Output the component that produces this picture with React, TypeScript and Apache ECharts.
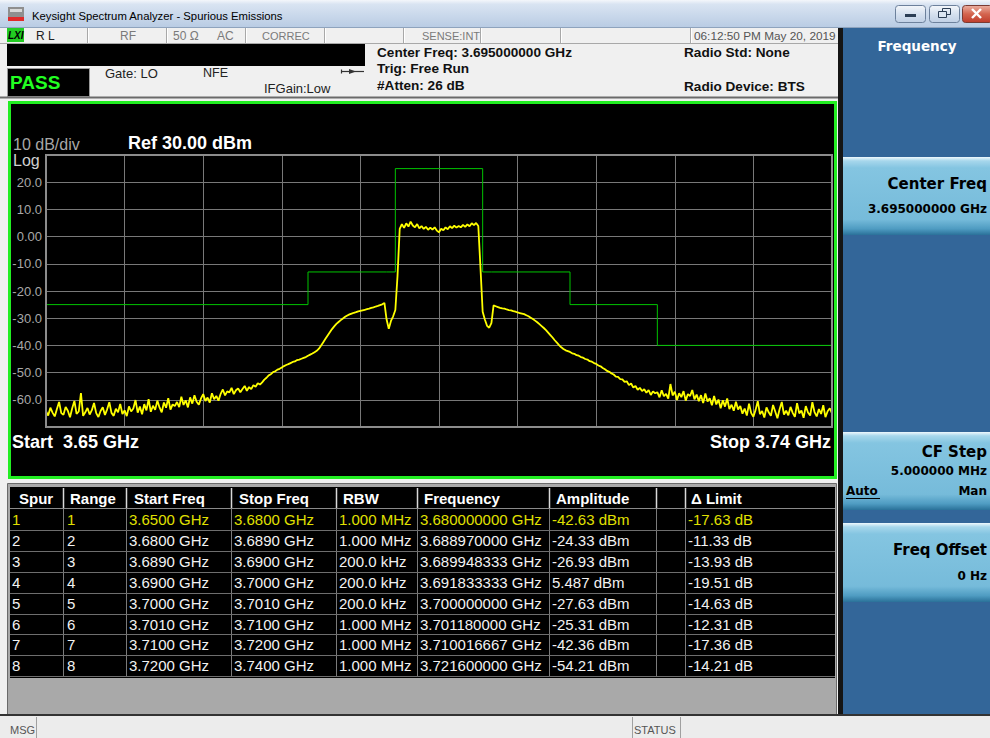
import React, { useEffect, useRef } from "react";
import * as echarts from "echarts";

// ---------------- data ----------------
const START_MHZ = 3650;
const STOP_MHZ = 3740;
const REF_LEVEL_DBM = 30;
const BOTTOM_LEVEL_DBM = -70;
const DB_PER_DIV = 10;
const FREQ_DIV_MHZ = 9;
const TRACE_STEP_MHZ = 0.25;

// trace samples every 0.25 MHz from 3650 MHz
const traceDbm = [
  -64.2, -65.8, -62.9, -64.7, -66.1, -63.4, -60.8, -64.9, -65.5, -62.6, -64.0, -66.4, -63.1, -60.4, -65.2, -64.3, -57.5, -65.9, -64.6, -63.0,
  -65.4, -63.8, -61.2, -64.9, -66.3, -64.1, -62.7, -65.6, -63.5, -60.9, -64.8, -65.9, -63.3, -64.6, -61.5, -65.2, -63.9, -66.0, -62.4, -64.3,
  -63.2, -60.1, -64.7, -62.5, -65.3, -61.6, -63.9, -59.8, -64.4, -62.2, -63.7, -60.3, -62.8, -64.6, -61.0, -62.9, -59.4, -63.6, -61.7, -62.3,
  -60.8, -62.7, -58.9, -61.9, -60.2, -62.8, -59.1, -61.4, -58.3, -60.7, -61.8, -59.5, -57.9, -60.4, -59.2, -61.0, -57.6, -59.8, -58.6, -60.3,
  -57.8, -56.2, -58.4, -56.9, -57.3, -55.6, -57.9, -56.5, -55.8, -57.2, -56.0, -54.9, -56.7, -55.3, -56.1, -54.6, -55.2, -53.9, -54.4, -53.6,
  -52.6, -51.9, -51.0, -50.6, -49.8, -49.5, -48.9, -48.6, -48.1, -47.6, -47.2, -46.9, -46.5, -46.1, -45.9, -45.4, -45.2, -44.9, -44.6, -44.3,
  -43.8, -43.4, -43.0, -42.5, -42.0, -41.2, -40.0, -38.8, -37.6, -36.4, -35.2, -34.0, -33.0, -32.1, -31.4, -30.7, -30.1, -29.5, -29.0, -28.6,
  -28.3, -28.0, -27.8, -27.5, -27.3, -27.1, -26.9, -26.7, -26.5, -26.2, -26.0, -25.7, -25.5, -25.2, -24.9, -24.4, -30.5, -33.9, -31.0, -29.3,
  -27.0, -14.5, 2.8, 4.6, 3.2, 4.9, 3.7, 5.5, 4.1, 3.4, 4.6, 3.0, 3.9, 2.8, 3.6, 2.5, 3.3, 2.6, 3.4, 2.2,
  1.6, 2.9, 2.3, 3.4, 2.7, 3.8, 3.1, 4.0, 3.3, 3.9, 3.4, 4.3, 3.6, 4.5, 3.8, 4.9, 4.2, 5.0, 3.9, -11.5,
  -27.6, -30.5, -32.8, -33.5, -31.8, -25.3, -25.6, -25.9, -26.2, -26.4, -26.5, -26.8, -27.0, -27.1, -27.4, -27.6, -27.9, -28.1, -28.3, -28.5,
  -28.9, -29.3, -29.8, -30.3, -30.9, -31.5, -32.2, -32.9, -33.6, -34.4, -35.3, -36.2, -37.1, -38.1, -39.0, -39.9, -40.7, -41.3, -41.8, -42.1,
  -42.4, -42.9, -43.1, -43.6, -43.8, -44.3, -44.5, -45.0, -45.2, -45.8, -46.0, -46.5, -46.8, -47.4, -47.7, -48.3, -48.8, -49.4, -49.7, -50.3,
  -50.7, -51.5, -51.6, -52.4, -52.5, -53.4, -53.2, -54.6, -54.0, -55.5, -54.9, -56.3, -55.6, -56.8, -56.1, -57.4, -56.4, -58.2, -56.9, -57.6,
  -57.2, -59.1, -56.5, -58.7, -57.8, -59.6, -54.2, -58.4, -57.0, -60.1, -57.6, -59.0, -56.8, -60.3, -57.9, -58.6, -56.4, -59.8, -58.1, -60.5,
  -58.3, -61.2, -57.7, -60.6, -59.4, -62.0, -58.6, -61.7, -59.9, -63.1, -60.2, -62.5, -59.5, -63.4, -61.8, -64.0, -60.7, -63.6, -62.3, -65.1,
  -63.2, -65.8, -61.4, -64.9, -66.2, -63.7, -60.5, -65.3, -64.1, -66.5, -62.8, -64.6, -65.9, -61.9, -64.3, -66.8, -63.5, -60.8, -65.4, -64.0,
  -65.7, -62.6, -64.8, -66.3, -61.2, -65.0, -63.9, -66.6, -62.3, -64.7, -65.8, -60.9, -64.5, -66.1, -63.4, -65.2, -62.0, -66.4, -64.2, -63.1,
  -65.0,
];

const rangeNumbers = [1, 2, 3, 4, 5, 6, 7, 8];
const rangeStartMHz = [3650, 3680, 3689, 3690, 3700, 3701, 3710, 3720];
const rangeStopMHz = [3680, 3689, 3690, 3700, 3701, 3710, 3720, 3740];
const rangeLimitDbm = [-25, -13, -13, 25, -13, -13, -25, -40];
const rangeRbwLabels = ["1.000 MHz", "1.000 MHz", "200.0 kHz", "200.0 kHz", "200.0 kHz", "1.000 MHz", "1.000 MHz", "1.000 MHz"];
const spurNumbers = [1, 2, 3, 4, 5, 6, 7, 8];
const spurFreqGHz = [3.68, 3.68897, 3.689948333, 3.691833333, 3.7, 3.70118, 3.710016667, 3.7216];
const spurAmplitudeDbm = [-42.63, -24.33, -26.93, 5.487, -27.63, -25.31, -42.36, -54.21];
const spurDeltaLimitDb = [-17.63, -11.33, -13.93, -19.51, -14.63, -12.31, -17.36, -14.21];
const tableHeaders = ["Spur", "Range", "Start Freq", "Stop Freq", "RBW", "Frequency", "Amplitude", "", "\u0394 Limit"];

// ---------------- layout ----------------
const FONT = '"Liberation Sans", Arial, sans-serif';
const SKF = '"DejaVu Sans", sans-serif';
const GRID = { left: 46, top: 155, width: 786, height: 272 };
const COL_EDGES = [10, 63, 126, 231, 336, 417, 549, 656, 685, 835];
const HEAD_X = [19, 70, 134, 239, 343, 424, 556, 0, 691];
const CELL_X = [12, 67, 129, 234, 339, 420, 552, 0, 688];

function grad(stops: [number, string][]) {
  return new echarts.graphic.LinearGradient(0, 0, 0, 1, stops.map(([offset, color]) => ({ offset, color })));
}

function buildGraphics() {
  const els: any[] = [];
  const R = (x: number, y: number, w: number, h: number, fill: any, o: any = {}) =>
    els.push({
      type: "rect",
      silent: true,
      z: o.z ?? -8,
      shape: { x, y, width: w, height: h, r: o.r || 0 },
      style: { fill, stroke: o.stroke || null, lineWidth: o.lw || 1 },
    });
  const L = (x1: number, y1: number, x2: number, y2: number, stroke: string, lw = 1, z = -6) =>
    els.push({ type: "line", silent: true, z, shape: { x1, y1, x2, y2 }, style: { stroke, lineWidth: lw } });
  const T = (x: number, y: number, text: string, font: string, fill: string, align = "left") =>
    els.push({
      type: "text",
      silent: true,
      z: 100,
      x,
      y,
      style: { text, font, fill, textAlign: align, textVerticalAlign: "middle", align, verticalAlign: "middle" },
    });

  // title bar
  R(0, 0, 990, 28, grad([[0, "#f4f7fb"], [0.15, "#d9e4f2"], [1, "#b8cbe3"]]), { z: -9 });
  L(0, 27.5, 990, 27.5, "#8ea3bd");
  R(8, 7, 16, 11, "#8f8f8f");
  R(10, 9, 12, 3, "#d8d8d8");
  R(8, 17, 16, 4, "#e02a2a");
  T(32, 16, "Keysight Spectrum Analyzer - Spurious Emissions", `11.3px ${FONT}`, "#000");
  R(895.5, 5.5, 30, 17, grad([[0, "#f4f7fb"], [0.5, "#d6e1ef"], [1, "#c0d0e5"]]), { stroke: "#6d819c", r: 3 });
  R(929.5, 5.5, 30, 17, grad([[0, "#f4f7fb"], [0.5, "#d6e1ef"], [1, "#c0d0e5"]]), { stroke: "#6d819c", r: 3 });
  R(962.5, 5.5, 30, 17, grad([[0, "#eab0a2"], [0.5, "#d4654f"], [1, "#bf3d2c"]]), { stroke: "#7a3b33", r: 3 });
  R(905, 14, 11, 3, "#2c3e55", { z: -5 });
  R(942.5, 8.5, 8, 6, "none", { stroke: "#2c3e55", z: -5 });
  R(938.5, 11.5, 8, 6, "#dce6f2", { stroke: "#2c3e55", z: -4 });
  L(972, 9, 981, 18, "#ffffff", 2.4, -4);
  L(981, 9, 972, 18, "#ffffff", 2.4, -4);

  // status row
  R(0, 28, 838, 70, "#f0f0f0", { z: -9 });
  L(0, 43.5, 838, 43.5, "#a8a8a8");
  [87, 166, 245, 324, 403, 480, 560, 690].forEach((x) => {
    L(x + 0.5, 28, x + 0.5, 43, "#a8a8a8");
    L(x + 1.5, 28, x + 1.5, 43, "#ffffff");
  });
  R(7, 28, 17, 14, "#22cc22");
  T(8, 35.5, "LXI", `italic bold 10px ${FONT}`, "#000");
  T(36, 35.5, "R L", `12px ${FONT}`, "#222");
  T(120, 35.5, "RF", `12px ${FONT}`, "#7a7a7a");
  T(173, 35.5, "50 \u03A9", `12px ${FONT}`, "#7a7a7a");
  T(217, 35.5, "AC", `12px ${FONT}`, "#7a7a7a");
  T(262, 35.5, "CORREC", `11px ${FONT}`, "#7a7a7a");
  T(422, 35.5, "SENSE:INT", `11px ${FONT}`, "#7a7a7a");
  T(694, 35.5, "06:12:50 PM May 20, 2019", `11.8px ${FONT}`, "#555");

  // settings area
  R(7, 44, 358, 22, "#000");
  R(7.5, 68.5, 82, 28, "#000", { stroke: "#9a9a9a" });
  T(10, 82.5, "PASS", `bold 19px ${FONT}`, "#22ff22");
  T(105, 73, "Gate: LO", `13px ${FONT}`, "#222");
  T(203, 73, "NFE", `12.5px ${FONT}`, "#222");
  T(264, 88, "IFGain:Low", `13px ${FONT}`, "#222");
  L(341, 71.5, 364, 71.5, "#333", 1.2);
  els.push({ type: "polygon", silent: true, z: -5, shape: { points: [[349, 69], [356, 71.5], [349, 74]] }, style: { fill: "#333" } });
  L(341.5, 69.5, 341.5, 73.5, "#333", 1.2, -5);
  const centerGHz = ((START_MHZ + STOP_MHZ) / 2 / 1000).toFixed(9);
  T(377, 52, `Center Freq: ${centerGHz} GHz`, `bold 13.6px ${FONT}`, "#111");
  T(377, 68.5, "Trig: Free Run", `bold 13.6px ${FONT}`, "#111");
  T(377, 85, "#Atten: 26 dB", `bold 13.6px ${FONT}`, "#111");
  T(684, 52, "Radio Std: None", `bold 13.6px ${FONT}`, "#111");
  T(684, 86, "Radio Device: BTS", `bold 13.6px ${FONT}`, "#111");
  L(0, 97.5, 838, 97.5, "#6a6a6a", 2);

  // plot panel
  R(9.5, 102.5, 826, 375, "#000", { stroke: "#22ee22", lw: 3 });
  R(GRID.left, GRID.top, GRID.width, GRID.height, "none", { stroke: "#8c8c8c", lw: 2, z: 10 });
  T(13, 144, `${DB_PER_DIV} dB/div`, `16px ${FONT}`, "#a8a8a8");
  T(128, 143, `Ref ${REF_LEVEL_DBM.toFixed(2)} dBm`, `bold 18px ${FONT}`, "#ffffff");
  T(13, 160, "Log", `16px ${FONT}`, "#d0d0d0");
  T(12, 441.5, `Start  ${START_MHZ / 1000} GHz`, `bold 18px ${FONT}`, "#ffffff");
  T(831, 441.5, `Stop ${STOP_MHZ / 1000} GHz`, `bold 18px ${FONT}`, "#ffffff", "right");

  // table
  R(7.5, 483.5, 829, 231, "#a9a9a9", { stroke: "#6a6a6a" });
  R(10, 487, 825, 191, "#000");
  tableHeaders.forEach((h, i) => {
    if (h) T(HEAD_X[i], 498, h, `bold 15px ${FONT}`, "#ffffff");
  });
  COL_EDGES.slice(1, -1).forEach((x) => {
    L(x + 0.5, 488, x + 0.5, 508, "#d8d8d8", 1.5);
    L(x + 0.5, 509, x + 0.5, 677, "#7a7a7a");
  });
  L(10, 508.5, 835, 508.5, "#8a8a8a");
  const ROW_H = 20.9;
  rangeNumbers.forEach((rn, k) => {
    const top = 509 + k * ROW_H;
    const cy = top + 10.5;
    L(10, Math.round(top + ROW_H) + 0.5, 835, Math.round(top + ROW_H) + 0.5, "#6e6e6e");
    const cells = [
      String(spurNumbers[k]),
      String(rn),
      `${(rangeStartMHz[k] / 1000).toFixed(4)} GHz`,
      `${(rangeStopMHz[k] / 1000).toFixed(4)} GHz`,
      rangeRbwLabels[k],
      `${spurFreqGHz[k].toFixed(9)} GHz`,
      `${spurAmplitudeDbm[k].toPrecision(4)} dBm`,
      "",
      `${spurDeltaLimitDb[k].toFixed(2)} dB`,
    ];
    const color = k === 0 ? "#e0e000" : "#f2f2f2";
    cells.forEach((c, i) => {
      if (c) T(CELL_X[i], cy, c, `15px ${FONT}`, color);
    });
  });

  // status bar
  R(0, 716, 990, 22, "#ececec", { z: -9 });
  L(0, 715, 990, 715, "#333", 2);
  [36, 632, 680].forEach((x) => L(x + 0.5, 717, x + 0.5, 738, "#a0a0a0"));
  T(10, 729.5, "MSG", `11px ${FONT}`, "#555");
  T(634, 729.5, "STATUS", `11px ${FONT}`, "#555");

  // soft key panel
  R(838, 28, 152, 686, "#336699", { z: -9 });
  R(838, 28, 5, 686, "#151515", { z: -8 });
  T(917, 46, "Frequency", `bold 13.5px ${SKF}`, "#ffffff", "center");
  const keyGrad = () =>
    grad([[0, "#eef8fd"], [0.05, "#a7d7ec"], [0.14, "#84c5e1"], [0.8, "#76bbda"], [0.92, "#4f9cc2"], [1, "#2a7199"]]);
  [[157, 235], [432, 510], [523, 602]].forEach(([a, b]) => R(843, a, 147, b - a, keyGrad()));
  T(987, 184, "Center Freq", `bold 15px ${SKF}`, "#000", "right");
  T(987, 209, `${centerGHz} GHz`, `bold 12px ${SKF}`, "#000", "right");
  T(987, 452, "CF Step", `bold 15px ${SKF}`, "#000", "right");
  T(987, 471, "5.000000 MHz", `bold 12px ${SKF}`, "#000", "right");
  T(846, 491, "Auto", `bold 12px ${SKF}`, "#000");
  L(846, 498.5, 880, 498.5, "#000", 1.2, -4);
  T(987, 491, "Man", `bold 12px ${SKF}`, "#000", "right");
  T(987, 550, "Freq Offset", `bold 15px ${SKF}`, "#000", "right");
  T(987, 576, "0 Hz", `bold 12px ${SKF}`, "#000", "right");

  return els;
}

export default function App() {
  const ref = useRef<HTMLDivElement>(null);
  useEffect(() => {
    if (!ref.current) return;
    const chart = echarts.init(ref.current, null, { renderer: "svg" });
    const traceData = traceDbm.map((v, i) => [i * TRACE_STEP_MHZ, v]);
    const limitData: number[][] = [];
    rangeStartMHz.forEach((s, i) => {
      limitData.push([s - START_MHZ, rangeLimitDbm[i]]);
      limitData.push([rangeStopMHz[i] - START_MHZ, rangeLimitDbm[i]]);
    });
    chart.setOption({
      animation: false,
      backgroundColor: "#f0f0f0",
      grid: { ...GRID, containLabel: false },
      xAxis: {
        type: "value",
        min: 0,
        max: STOP_MHZ - START_MHZ,
        interval: FREQ_DIV_MHZ,
        axisLine: { show: false },
        axisTick: { show: false },
        axisLabel: { show: false },
        splitLine: { show: true, lineStyle: { color: "#787878", width: 1 } },
      },
      yAxis: {
        type: "value",
        min: BOTTOM_LEVEL_DBM,
        max: REF_LEVEL_DBM,
        interval: DB_PER_DIV,
        axisLine: { show: false },
        axisTick: { show: false },
        axisLabel: {
          color: "#a8a8a8",
          fontSize: 13,
          fontFamily: FONT,
          margin: 4,
          formatter: (v: number) =>
            v === REF_LEVEL_DBM || v === BOTTOM_LEVEL_DBM ? "" : v === 0 ? "0.00" : v.toFixed(1),
        },
        splitLine: { show: true, lineStyle: { color: "#787878", width: 1 } },
      },
      series: [
        {
          type: "line",
          data: limitData,
          symbol: "none",
          silent: true,
          z: 2,
          lineStyle: { color: "#00c400", width: 1 },
        },
        {
          type: "line",
          data: traceData,
          symbol: "none",
          silent: true,
          z: 3,
          lineStyle: { color: "#ffff00", width: 1.8 },
        },
      ],
      graphic: { elements: buildGraphics() },
    });
    return () => chart.dispose();
  }, []);
  return <div ref={ref} style={{ position: "absolute", left: 0, top: 0, width: 990, height: 738 }} />;
}
